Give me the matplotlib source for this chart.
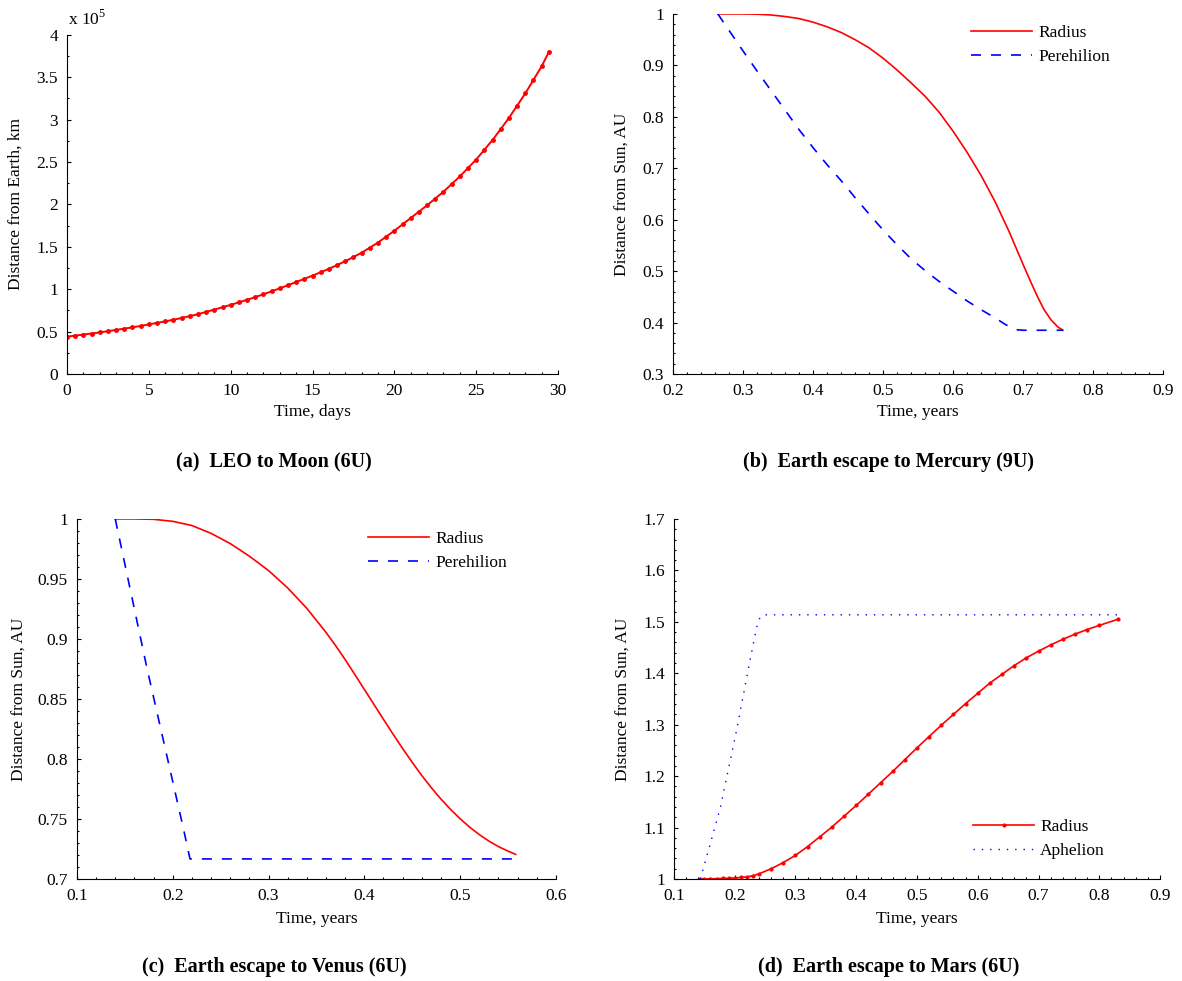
import matplotlib
matplotlib.use("Agg")
import matplotlib.pyplot as plt
from matplotlib.ticker import MultipleLocator, FuncFormatter

plt.rcParams['font.family'] = ['Liberation Serif', 'DejaVu Serif']
plt.rcParams['font.size'] = 12.5
plt.rcParams['mathtext.fontset'] = 'custom'
plt.rcParams['mathtext.rm'] = 'Liberation Serif'

# (a) LEO to Moon, distance in units of 1e5 km
moon_days = [0, 0.5, 1, 1.5, 2, 2.5, 3, 3.5, 4, 4.5, 5, 5.5, 6, 6.5, 7, 7.5, 8, 8.5, 9, 9.5,
             10, 10.5, 11, 11.5, 12, 12.5, 13, 13.5, 14, 14.5, 15, 15.5, 16, 16.5, 17, 17.5,
             18, 18.5, 19, 19.5, 20, 20.5, 21, 21.5, 22, 22.5, 23, 23.5, 24, 24.5, 25, 25.5,
             26, 26.5, 27, 27.5, 28, 28.5, 29, 29.44]
moon_dist = [0.44, 0.452, 0.465, 0.477, 0.49, 0.505, 0.52, 0.535, 0.55, 0.567, 0.585, 0.602,
             0.62, 0.64, 0.66, 0.682, 0.705, 0.732, 0.76, 0.787, 0.815, 0.845, 0.875, 0.907,
             0.94, 0.975, 1.01, 1.047, 1.085, 1.122, 1.16, 1.2, 1.24, 1.285, 1.33, 1.38,
             1.43, 1.49, 1.55, 1.62, 1.69, 1.765, 1.84, 1.915, 1.99, 2.07, 2.15, 2.24,
             2.33, 2.43, 2.53, 2.645, 2.76, 2.89, 3.02, 3.165, 3.31, 3.47, 3.63, 3.80]

# (b) Earth escape to Mercury
merc_t = [0.264, 0.28, 0.30, 0.32, 0.34, 0.36, 0.38, 0.40, 0.42, 0.44, 0.46, 0.48, 0.50, 0.52,
          0.54, 0.56, 0.58, 0.60, 0.62, 0.64, 0.66, 0.68, 0.69, 0.70, 0.71, 0.72, 0.73, 0.74,
          0.75, 0.757]
merc_r = [1.0, 1.0, 1.0, 0.9995, 0.998, 0.995, 0.991, 0.984, 0.975, 0.964, 0.950, 0.934, 0.914,
          0.891, 0.866, 0.840, 0.809, 0.772, 0.731, 0.686, 0.635, 0.577, 0.545, 0.513, 0.482,
          0.452, 0.425, 0.405, 0.391, 0.385]
merc_pt = [0.264, 0.28, 0.30, 0.32, 0.34, 0.36, 0.38, 0.40, 0.42, 0.44, 0.46, 0.48, 0.50, 0.52,
           0.54, 0.56, 0.58, 0.60, 0.62, 0.64, 0.66, 0.675, 0.69, 0.70, 0.757]
merc_p = [1.0, 0.968, 0.928, 0.889, 0.851, 0.813, 0.775, 0.740, 0.707, 0.676, 0.643, 0.611,
          0.580, 0.551, 0.524, 0.501, 0.480, 0.461, 0.442, 0.425, 0.409, 0.396, 0.386, 0.385,
          0.385]

# (c) Earth escape to Venus
ven_t = [0.14, 0.16, 0.18, 0.20, 0.22, 0.24, 0.26, 0.28, 0.30, 0.32, 0.34, 0.36, 0.37, 0.38,
         0.39, 0.40, 0.41, 0.42, 0.43, 0.44, 0.45, 0.46, 0.47, 0.48, 0.49, 0.50, 0.51, 0.52,
         0.53, 0.54, 0.55, 0.558]
ven_r = [1.0, 1.0, 0.9997, 0.998, 0.9945, 0.988, 0.9795, 0.969, 0.957, 0.9425, 0.9255, 0.9055,
         0.8945, 0.8828, 0.8705, 0.858, 0.8455, 0.833, 0.8207, 0.8087, 0.7972, 0.7862, 0.776,
         0.7666, 0.758, 0.7502, 0.7432, 0.737, 0.7316, 0.727, 0.7232, 0.7205]
ven_pt = [0.140, 0.173, 0.211, 0.218, 0.558]
ven_p = [1.0, 0.876, 0.7425, 0.7167, 0.7167]

# (d) Earth escape to Mars
mars_t = [0.143, 0.15, 0.16, 0.17, 0.18, 0.19, 0.20, 0.21, 0.22, 0.23, 0.24, 0.26, 0.28, 0.30,
          0.32, 0.34, 0.36, 0.38, 0.40, 0.42, 0.44, 0.46, 0.48, 0.50, 0.52, 0.54, 0.56, 0.58,
          0.60, 0.62, 0.64, 0.66, 0.68, 0.70, 0.72, 0.74, 0.76, 0.78, 0.80, 0.8308]
mars_r = [1.000, 1.000, 1.0003, 1.0006, 1.001, 1.0015, 1.002, 1.003, 1.004, 1.0065, 1.010,
          1.020, 1.032, 1.046, 1.063, 1.082, 1.101, 1.122, 1.143, 1.165, 1.187, 1.209, 1.232,
          1.255, 1.277, 1.299, 1.320, 1.341, 1.361, 1.381, 1.398, 1.415, 1.430, 1.443, 1.455,
          1.466, 1.476, 1.485, 1.493, 1.505]
mars_at = [0.143, 0.148, 0.176, 0.203, 0.225, 0.236, 0.242, 0.25, 0.83]
mars_a = [1.0, 1.019, 1.137, 1.289, 1.424, 1.489, 1.510, 1.5136, 1.5136]

RED = '#ff0000'
BLUE = '#0000ff'
fmt = FuncFormatter(lambda v, p: '%g' % v)

fig = plt.figure(figsize=(11.82, 9.81), dpi=100)


def style(ax, xlim, ylim, xmaj, xmin, ymaj, ymin, xlabel, ylabel, ylx, xly):
    ax.set_xlim(*xlim)
    ax.set_ylim(*ylim)
    ax.xaxis.set_major_locator(MultipleLocator(xmaj))
    ax.xaxis.set_minor_locator(MultipleLocator(xmin))
    ax.yaxis.set_major_locator(MultipleLocator(ymaj))
    ax.yaxis.set_minor_locator(MultipleLocator(ymin))
    ax.xaxis.set_major_formatter(fmt)
    ax.yaxis.set_major_formatter(fmt)
    for s in ['top', 'right']:
        ax.spines[s].set_visible(False)
    for s in ['left', 'bottom']:
        ax.spines[s].set_linewidth(0.8)
    ax.tick_params(which='both', direction='in', top=False, right=False, pad=6.5, width=0.8)
    ax.tick_params(which='major', length=3)
    ax.tick_params(which='minor', length=1.5)
    ax.set_xlabel(xlabel)
    ax.set_ylabel(ylabel)
    ax.xaxis.set_label_coords(0.5, xly)
    ax.xaxis.label.set_va('center')
    ax.yaxis.set_label_coords(ylx, 0.5)
    ax.yaxis.label.set_va('center')


leg_kw = dict(frameon=False, loc='upper left', borderpad=0, borderaxespad=0,
              handlelength=3.5, handletextpad=0.35, labelspacing=0.45)

# (a)
ax = fig.add_axes([0.0567, 0.6188, 0.4154, 0.3456])
ax.plot(moon_days, moon_dist, color=RED, lw=1.4, marker='.', ms=5)
style(ax, (0, 30), (0, 4), 5, 1, 0.5, 0.25, 'Time, days', 'Distance from Earth, km', -0.104, -0.112)
ax.text(0.002, 1.029, r'x 10$^{\mathrm{5}}$', transform=ax.transAxes, ha='left', va='baseline')

# (b)
ax = fig.add_axes([0.5694, 0.6188, 0.4146, 0.367])
ax.plot(merc_t, merc_r, color=RED, lw=1.2, label='Radius')
ax.plot(merc_pt, merc_p, color=BLUE, lw=1.2, dashes=(6, 6), label='Perehilion')
style(ax, (0.2, 0.9), (0.3, 1.0), 0.1, 0.02, 0.1, 0.02, 'Time, years', 'Distance from Sun, AU', -0.102, -0.106)
ax.legend(bbox_to_anchor=(0.609, 0.969), **leg_kw)

# (c)
ax = fig.add_axes([0.0651, 0.104, 0.4052, 0.367])
ax.plot(ven_t, ven_r, color=RED, lw=1.2, label='Radius')
ax.plot(ven_pt, ven_p, color=BLUE, lw=1.2, dashes=(6, 6), label='Perehilion')
style(ax, (0.1, 0.6), (0.7, 1.0), 0.1, 0.02, 0.05, 0.01, 'Time, years', 'Distance from Sun, AU', -0.12, -0.111)
ax.legend(bbox_to_anchor=(0.608, 0.9675), **leg_kw)

# (d)
ax = fig.add_axes([0.5702, 0.104, 0.4112, 0.367])
ax.plot(mars_t, mars_r, color=RED, lw=1.2, marker='.', ms=4, label='Radius')
ax.plot(mars_at, mars_a, color=BLUE, lw=1.0, linestyle=(0, (1, 5)), label='Aphelion')
style(ax, (0.1, 0.9), (1.0, 1.7), 0.1, 0.02, 0.1, 0.02, 'Time, years', 'Distance from Sun, AU', -0.103, -0.111)
ax.legend(bbox_to_anchor=(0.616, 0.166), **leg_kw)

cap = dict(ha='center', va='center', fontsize=14.5, fontweight='bold')
fig.text(0.232, 1 - 462 / 981, '(a)  LEO to Moon (6U)', **cap)
fig.text(0.752, 1 - 462 / 981, '(b)  Earth escape to Mercury (9U)', **cap)
fig.text(0.232, 1 - 967 / 981, '(c)  Earth escape to Venus (6U)', **cap)
fig.text(0.752, 1 - 967 / 981, '(d)  Earth escape to Mars (6U)', **cap)

fig.savefig('out.png', dpi=100)
